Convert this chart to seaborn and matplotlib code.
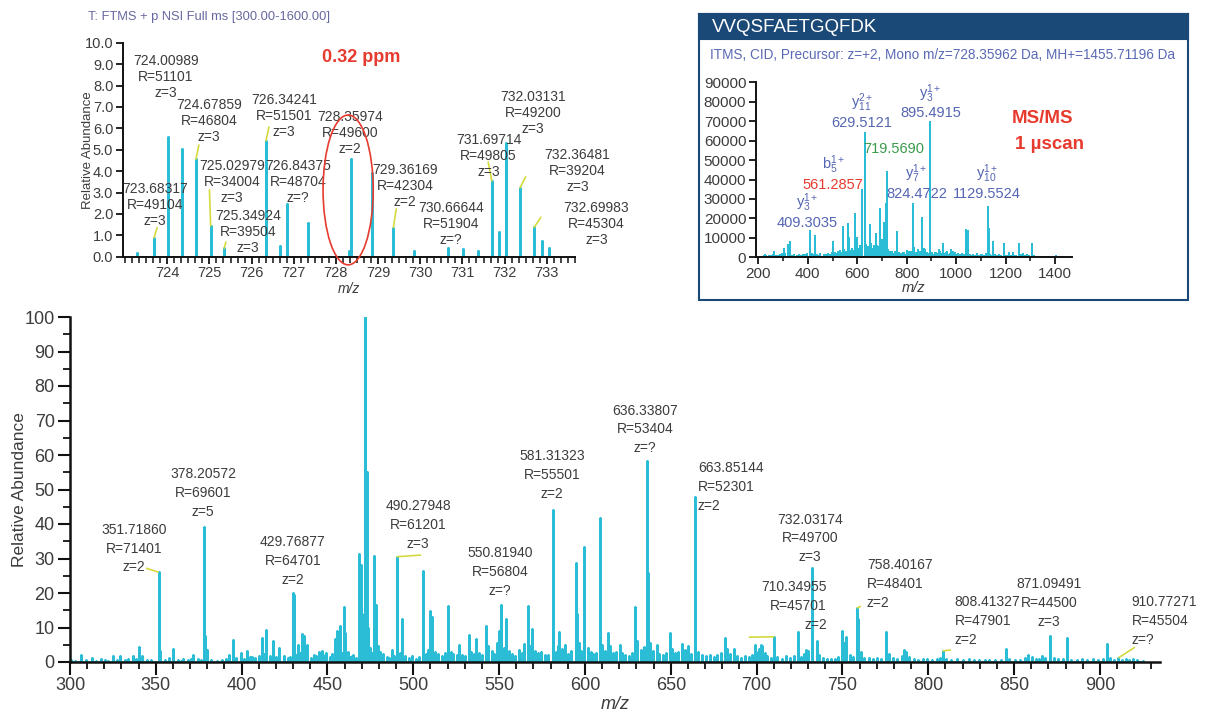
import numpy as np
import pandas as pd
import matplotlib
matplotlib.use("Agg")
import matplotlib.pyplot as plt
import seaborn as sns
from matplotlib.patches import Ellipse, Rectangle, ConnectionPatch
from matplotlib.ticker import MultipleLocator, FixedLocator, FormatStrFormatter

# ---------------- full MS scan (relative abundance, %) ----------------
full_label_mz = [351.71860, 378.20572, 429.76877, 490.27948, 550.81940, 581.31323, 636.33807,
                 663.85144, 710.34955, 732.03174, 758.40167, 808.41327, 871.09491, 910.77271]
full_label_res = [71401, 69601, 64701, 61201, 56804, 55501, 53404,
                  52301, 45701, 49700, 48401, 47901, 44500, 45504]
full_label_z = ["2", "5", "2", "3", "?", "2", "?", "2", "2", "3", "2", "2", "3", "?"]
full_label_int = [26.0, 39.0, 20.0, 30.5, 16.5, 44.0, 58.4, 47.7, 7.3, 27.2, 15.6, 3.2, 7.6, 1.2]

full_other_peaks = [
    (306.4, 2.0), (312.6, 1.2), (318.0, 0.8), (324.9, 1.7), (329.1, 1.7), (336.5, 1.6),
    (340.0, 4.4), (341.8, 1.6), (352.6, 3.3), (357.8, 1.3), (360.2, 3.9), (366.0, 1.0),
    (371.8, 2.0), (378.7, 7.4), (379.6, 3.5), (392.8, 2.0), (394.7, 6.5), (399.4, 2.5),
    (402.9, 3.3), (406.0, 1.5), (411.6, 7.1), (414.0, 9.4), (418.0, 6.2), (421.9, 4.0),
    (430.27, 19.4), (432.9, 5.0), (435.3, 8.1), (436.3, 7.4), (438.2, 5.0), (442.0, 2.0),
    (445.0, 3.0), (447.0, 3.3), (449.0, 2.5), (454.3, 6.8), (455.3, 8.9), (457.2, 10.5),
    (459.8, 16.0), (460.3, 8.5), (463.0, 1.5), (465.0, 2.0), (468.3, 31.3), (469.3, 28.2),
    (469.9, 14.0), (472.0, 100.0), (472.8, 55.0), (473.6, 10.0), (477.1, 30.7), (478.0, 16.5),
    (479.6, 4.5), (487.4, 3.5), (490.78, 26.6), (493.7, 12.4), (505.4, 26.4), (509.7, 14.8),
    (511.0, 13.0), (520.0, 16.1), (526.6, 4.9), (532.4, 7.8), (536.3, 6.6), (542.1, 10.5),
    (551.3, 12.0), (554.0, 12.6), (566.9, 16.1), (569.0, 9.7), (585.0, 8.8), (594.6, 28.6),
    (595.1, 14.0), (599.25, 33.3), (608.75, 41.6), (613.6, 8.4), (620.4, 4.9), (629.2, 16.0),
    (636.84, 25.8), (641.85, 5.0), (649.5, 8.5), (656.5, 5.2), (659.9, 4.6), (664.35, 10.2),
    (681.5, 7.0), (687.0, 3.9), (699.0, 5.0), (702.3, 4.9), (703.0, 4.5), (723.9, 8.6),
    (729.0, 3.6), (732.37, 19.0), (734.9, 6.2), (749.5, 9.0), (750.0, 6.0), (752.0, 7.2),
    (758.9, 12.4), (775.6, 8.6), (785.8, 3.6), (787.0, 3.0), (845.2, 3.9), (858.0, 1.9),
    (866.0, 1.7), (880.6, 6.9), (903.9, 5.2), (915.0, 1.0), (919.2, 0.8),
]

full_noise = [
    (300.8, 0.6), (303.2, 0.4), (309.5, 0.5), (315.1, 0.3), (320.6, 0.5), (322.4, 0.4),
    (327.3, 0.7), (331.8, 0.6), (333.5, 0.9), (338.2, 0.8), (344.6, 0.7), (347.3, 0.5),
    (355.4, 0.6), (362.8, 0.5), (364.4, 0.4), (368.9, 0.7), (370.3, 1.0), (374.5, 0.8),
    (376.1, 0.6), (382.4, 0.5), (385.7, 0.4), (388.3, 0.6), (390.6, 0.9), (396.8, 1.2),
    (401.2, 1.0), (404.6, 1.4), (407.8, 1.1), (409.9, 1.8), (413.0, 2.2), (416.3, 1.6),
    (420.2, 1.4), (424.5, 1.8), (426.8, 1.2), (428.1, 1.5), (431.6, 2.0), (434.1, 2.5),
    (437.2, 1.8), (440.5, 1.3), (443.3, 1.6), (446.0, 2.2), (448.6, 1.9), (451.2, 1.5),
    (452.8, 2.4), (456.4, 3.0), (458.5, 2.6), (461.7, 2.8), (464.3, 1.8), (466.7, 1.2),
    (470.8, 3.0), (474.6, 4.0), (475.8, 2.5), (480.8, 3.0), (482.3, 2.2), (484.6, 1.4),
    (486.0, 1.2), (488.6, 1.8), (492.2, 2.5), (495.0, 1.6), (497.3, 1.2), (499.1, 1.8),
    (501.6, 1.0), (503.3, 1.5), (507.3, 2.2), (508.4, 3.5), (512.6, 2.8), (514.5, 2.2),
    (516.7, 1.6), (518.2, 2.6), (521.8, 3.0), (523.4, 2.4), (525.2, 1.9), (528.3, 2.1),
    (530.1, 1.7), (533.9, 3.0), (535.1, 2.2), (538.4, 2.6), (540.3, 2.0), (543.8, 4.5),
    (545.6, 3.3), (547.2, 2.4), (548.9, 5.5), (549.7, 9.0), (552.6, 4.2), (555.6, 3.1),
    (557.5, 2.3), (559.4, 1.8), (561.3, 3.6), (563.5, 2.5), (564.7, 5.2), (567.8, 4.6),
    (570.9, 3.3), (572.6, 2.6), (574.5, 3.0), (576.6, 2.1), (578.2, 1.9), (582.9, 3.0),
    (584.1, 4.6), (586.7, 3.8), (588.2, 5.0), (590.3, 2.4), (592.0, 3.2), (596.3, 5.5),
    (597.6, 3.1), (601.6, 4.2), (603.3, 3.0), (604.8, 2.3), (606.3, 2.7), (610.2, 5.0),
    (611.6, 3.2), (614.8, 4.6), (616.3, 2.6), (618.1, 3.0), (621.8, 2.6), (623.5, 2.0),
    (625.6, 1.6), (627.4, 2.5), (630.4, 6.0), (632.4, 3.5), (634.2, 4.4), (637.7, 5.6),
    (639.6, 3.3), (643.4, 2.4), (645.2, 1.9), (647.5, 2.7), (650.7, 3.8), (652.6, 2.5),
    (654.3, 3.0), (658.1, 3.6), (661.5, 2.4), (666.0, 3.0), (668.2, 2.1), (670.5, 1.6),
    (672.8, 2.0), (675.1, 1.5), (677.0, 1.9), (679.3, 2.6), (682.6, 3.8), (684.4, 2.2),
    (688.8, 1.6), (691.0, 1.3), (693.4, 1.8), (695.6, 1.4), (697.5, 2.0), (700.6, 3.0),
    (701.5, 3.8), (704.6, 2.6), (706.3, 1.8), (708.2, 1.3), (712.0, 1.4), (714.5, 1.0),
    (716.9, 1.6), (719.3, 1.2), (721.6, 1.8), (725.6, 1.5), (727.6, 2.4), (730.0, 3.2),
    (736.6, 2.0), (738.5, 1.2), (741.2, 0.9), (743.4, 0.8), (745.6, 1.0), (747.6, 1.4),
    (751.0, 5.5), (754.2, 2.0), (756.2, 1.5), (760.6, 2.8), (762.8, 1.3), (765.2, 1.1),
    (767.8, 0.9), (770.4, 1.3), (772.6, 1.0), (777.2, 2.3), (779.6, 1.1), (782.0, 0.9),
    (784.6, 1.8), (788.6, 1.5), (791.5, 0.8), (794.2, 0.6), (797.0, 1.0), (799.5, 0.8),
    (802.3, 0.6), (805.1, 0.9), (806.7, 1.3), (810.2, 1.0), (813.4, 0.7), (816.8, 0.9),
    (820.3, 0.6), (823.6, 0.8), (826.5, 0.5), (829.3, 0.7), (832.8, 0.6), (835.5, 0.5),
    (838.9, 0.7), (842.2, 0.6), (847.1, 0.8), (850.4, 0.5), (853.6, 0.6), (856.2, 1.2),
    (860.3, 1.4), (862.5, 1.0), (864.8, 0.9), (868.1, 1.3), (873.0, 1.2), (875.8, 0.8),
    (878.4, 0.9), (883.0, 0.7), (886.4, 0.6), (889.7, 0.8), (892.5, 0.7), (895.8, 0.9),
    (898.6, 0.6), (901.7, 0.8), (906.1, 1.1), (908.3, 0.7), (912.6, 0.6), (917.0, 0.5),
    (921.8, 0.5), (925.0, 0.4),
]

# ---------------- zoomed isotope region 723-734 (relative abundance, %) ----------------
zoom_label_mz = [723.68317, 724.00989, 724.67859, 725.02979, 725.34924, 726.34241, 726.84375,
                 728.35974, 729.36169, 730.66644, 731.69714, 732.03131, 732.36481, 732.69983]
zoom_label_res = [49104, 51101, 46804, 34004, 39504, 51501, 48704,
                  49600, 42304, 51904, 49805, 49200, 39204, 45304]
zoom_label_z = ["3", "3", "3", "3", "3", "3", "?", "2", "2", "?", "3", "3", "3", "3"]
zoom_label_int = [0.88, 5.6, 4.55, 1.43, 0.39, 5.42, 2.46, 4.55, 1.36, 0.42, 3.54, 5.33, 3.22, 1.37]

zoom_other_peaks = [
    (723.29, 0.16), (724.343, 5.05), (726.676, 0.5), (727.345, 1.56), (728.30, 0.25),
    (728.861, 3.93), (729.86, 0.28), (731.01, 0.37), (731.38, 0.28), (731.87, 1.17),
    (732.88, 0.75), (733.06, 0.4),
]
zoom_tick_values = [724, 725, 726, 727, 728, 729, 730, 731, 732, 733]

# ---------------- MS/MS spectrum of the 728.36 precursor (counts) ----------------
msms_ion_names = ["y", "b", "y", None, "y", "y", "y"]
msms_ion_sub = ["3", "5", "11", None, "3", "7", "10"]
msms_ion_charge = ["1+", "1+", "2+", None, "1+", "1+", "1+"]
msms_label_mz = [409.3035, 561.2857, 629.5121, 719.5690, 895.4915, 824.4722, 1129.5524]
msms_label_int = [13700, 17100, 63800, 43700, 69400, 27300, 25900]
msms_label_kind = ["blue", "red", "blue", "green", "blue", "blue", "blue"]

msms_other_peaks = [
    (227, 1000), (263.5, 2600), (304, 4300), (320, 6300), (328, 7800), (429, 11100),
    (503, 8000), (541, 15400), (567, 10000), (592, 22300), (600, 10000), (618, 34600),
    (633, 8000), (650, 16600), (655, 7000), (676, 12000), (680, 6000), (692, 24700),
    (698, 9000), (709.6, 17800), (716.4, 27300), (722, 4000), (741, 2800), (761, 12800),
    (790, 2400), (800, 3300), (830, 5000), (860.6, 20000), (870, 4400), (915, 2000),
    (930, 3700), (948, 6700), (960, 2300), (980, 4000), (995, 2000), (1040, 14000),
    (1046, 13700), (1082, 1600), (1131.5, 14800), (1148, 8000), (1194, 6900), (1213, 2000),
    (1228, 2000), (1253, 6900), (1270, 1700), (1307, 6900), (1404, 700),
]

msms_noise = [
    (222, 900), (231, 700), (245, 800), (252, 600), (258, 1100), (272, 900), (281, 700),
    (289, 1200), (296, 1500), (309, 1800), (322, 1400), (338, 900), (346, 1100), (356, 800),
    (363, 1200), (371, 900), (380, 1400), (388, 1000), (395, 1700), (416, 1800), (421, 1300),
    (437, 1200), (444, 900), (451, 1600), (466, 1400), (473, 1100), (481, 1800), (489, 1300),
    (496, 2000), (511, 2200), (516, 1600), (524, 2500), (531, 3200), (537, 2400), (548, 3600),
    (553, 2800), (568, 3900), (574, 3000), (580, 4200), (586, 3400), (597, 5000), (604, 4300),
    (609, 3600), (613, 5600), (637, 6100), (641, 4600), (645, 5400), (656, 4800), (662, 4100),
    (668, 5700), (671, 4300), (682, 5200), (686, 4400), (697, 6600), (702, 5600), (706, 7200),
    (713, 6400), (724, 4000), (731, 2600), (738, 2100), (746, 1900), (753, 2700), (768, 2200),
    (776, 1600), (783, 2400), (789, 1800), (797, 1300), (803, 2200), (811, 2900), (818, 2600),
    (831, 3000), (838, 2300), (846, 3600), (853, 2500), (868, 2000), (873, 3900), (880, 2100),
    (886, 1600), (903, 2000), (910, 1400), (918, 2300), (925, 1500), (933, 2600), (940, 1700),
    (956, 1800), (962, 2900), (969, 1400), (975, 1900), (987, 2600), (993, 1600), (1001, 1200),
    (1008, 1800), (1015, 1300), (1022, 1500), (1030, 1100), (1054, 1300), (1061, 900),
    (1068, 1200), (1075, 800), (1083, 1000), (1091, 700), (1099, 1100), (1106, 1400),
    (1113, 900), (1120, 1600), (1137, 1200), (1143, 900), (1158, 1100), (1166, 800),
    (1174, 1000), (1182, 700), (1203, 900), (1210, 600), (1219, 800), (1226, 600), (1234, 900),
    (1241, 700), (1262, 1100), (1270, 700), (1279, 900), (1286, 1300), (1293, 600), (1316, 500),
    (1328, 400), (1352, 300), (1376, 300), (1420, 200),
]

# ---------------- styling ----------------
sns.set_theme(style="ticks")
plt.rcParams["font.family"] = ["Liberation Sans", "DejaVu Sans"]
plt.rcParams["mathtext.fontset"] = "custom"
plt.rcParams["mathtext.rm"] = "Liberation Sans"
plt.rcParams["mathtext.it"] = "Liberation Sans:italic"
plt.rcParams["mathtext.default"] = "regular"

CYAN = "#2bbdd6"
TEXT = "#3c3c3c"
LEADER = "#d4da3e"
RED = "#e63b2e"
ION_BLUE = "#5566b2"
GREEN = "#3a9a4c"
NAVY = "#1b4977"

W, H = 1205, 715


def box(left, top, right, bottom):
    return [left / W, 1 - bottom / H, (right - left) / W, (bottom - top) / H]


def stick_frame(peaks):
    peaks = sorted(peaks)
    mz = np.repeat([p[0] for p in peaks], 3)
    ab = np.column_stack([np.zeros(len(peaks)), [p[1] for p in peaks], np.zeros(len(peaks))]).ravel()
    return pd.DataFrame({"mz": mz, "abundance": ab})


def draw_spectrum(ax, peaks, lw):
    sns.lineplot(data=stick_frame(peaks), x="mz", y="abundance", ax=ax, estimator=None,
                 sort=False, color=CYAN, lw=lw, legend=False)


def style_axes(ax, spine_lw):
    sns.despine(ax=ax)
    for s in ("left", "bottom"):
        ax.spines[s].set_linewidth(spine_lw)
        ax.spines[s].set_color("#111111")
    ax.set_facecolor("none")


fig = plt.figure(figsize=(W / 100, H / 100), dpi=100)
fig.patch.set_facecolor("white")

# ======== main full-scan spectrum ========
ax = fig.add_axes(box(70, 317, 1160, 662))
draw_spectrum(ax, list(zip(full_label_mz, full_label_int)) + full_other_peaks + full_noise, 1.8)
ax.set_xlim(300, 935)
ax.set_ylim(0, 100)
style_axes(ax, 1.8)
ax.xaxis.set_major_locator(MultipleLocator(50))
ax.xaxis.set_minor_locator(MultipleLocator(10))
ax.yaxis.set_major_locator(MultipleLocator(10))
ax.yaxis.set_minor_locator(MultipleLocator(5))
ax.tick_params(which="major", length=9, width=1.5, direction="out", labelsize=13,
               labelcolor=TEXT, color="#111111", pad=2)
ax.tick_params(which="minor", length=5, width=1.3, direction="out", color="#111111")
ax.set_xlabel("m/z", fontstyle="italic", fontsize=13, color=TEXT, labelpad=1)
ax.set_ylabel("Relative Abundance", fontsize=12.5, color=TEXT, labelpad=-2)

# label blocks: (x in m/z, y in %, horizontal alignment)
full_text_pos = [
    (337.3, 32.8, "center"), (377.5, 49.0, "center"), (429.9, 29.3, "center"),
    (502.7, 39.7, "center"), (550.5, 26.1, "center"), (580.8, 54.2, "center"),
    (634.9, 67.5, "center"), (665.8, 50.7, "left"), (741.0, 16.2, "right"),
    (731.1, 35.9, "center"), (764.3, 22.6, "left"), (815.5, 11.9, "left"),
    (870.3, 17.1, "center"), (918.6, 11.9, "left"),
]
# leader lines from peak apex to label
full_leader_end = {0: (344.3, 27.2), 3: (504.5, 31.0), 8: (695.5, 7.2),
                   10: (760.8, 16.2), 11: (813.2, 3.5), 13: (920.4, 4.3)}
for i, (mz, res, z, it) in enumerate(zip(full_label_mz, full_label_res, full_label_z, full_label_int)):
    tx, ty, ha = full_text_pos[i]
    ax.text(tx, ty, f"{mz:.5f}\nR={res}\nz={z}", ha=ha, va="center", fontsize=10,
            color=TEXT, linespacing=1.42, multialignment=ha)
    end = full_leader_end.get(i)
    if end is not None:
        ax.plot([mz, end[0]], [it, end[1]], color=LEADER, lw=1.2, solid_capstyle="butt")

# ======== zoomed isotope region ========
ax1 = fig.add_axes(box(123, 42.7, 575, 256.7))
draw_spectrum(ax1, list(zip(zoom_label_mz, zoom_label_int)) + zoom_other_peaks, 1.9)
ax1.set_xlim(722.95, 733.67)
ax1.set_ylim(0, 10)
style_axes(ax1, 1.4)
ax1.xaxis.set_major_locator(FixedLocator(zoom_tick_values))
ax1.xaxis.set_minor_locator(MultipleLocator(1 / 6))
ax1.yaxis.set_major_locator(MultipleLocator(1))
ax1.yaxis.set_major_formatter(FormatStrFormatter("%.1f"))
ax1.tick_params(which="major", length=5, width=1.3, direction="out", labelsize=10.5,
                labelcolor=TEXT, color="#111111", pad=2)
ax1.tick_params(which="minor", length=4, width=1.1, direction="out", color="#111111")
ax1.set_xlabel("m/z", fontstyle="italic", fontsize=10, color=TEXT, labelpad=1)
ax1.set_ylabel("Relative Abundance", fontsize=9.5, color=TEXT, labelpad=-7)

zoom_text_pos = [
    (723.71, 2.42), (723.97, 8.40), (724.99, 6.34), (725.53, 3.49), (725.91, 1.15),
    (726.77, 6.57), (727.10, 3.49), (728.33, 5.78), (729.64, 3.30), (730.73, 1.52),
    (731.62, 4.71), (732.67, 6.71), (733.73, 4.00), (734.18, 1.52),
]
zoom_leader_end = {0: (723.76, 1.35), 2: (724.75, 5.22), 3: (725.00, 3.12), 4: (725.39, 0.69),
                   5: (726.41, 6.06), 8: (729.43, 2.23), 10: (731.61, 4.43), 12: (732.50, 3.73),
                   13: (732.86, 1.84)}
for i, (mz, res, z, it) in enumerate(zip(zoom_label_mz, zoom_label_res, zoom_label_z, zoom_label_int)):
    tx, ty = zoom_text_pos[i]
    ax1.text(tx, ty, f"{mz:.5f}\nR={res}\nz={z}", ha="center", va="center", fontsize=10,
             color=TEXT, linespacing=1.16, clip_on=False)
    end = zoom_leader_end.get(i)
    if end is not None:
        ax1.plot([mz, end[0]], [it, end[1]], color=LEADER, lw=1.2, clip_on=False)

ax1.text(728.60, 9.29, "0.32 ppm", color=RED, fontsize=13, fontweight="bold",
         ha="center", va="center")
fig.text(88 / W, 1 - 17 / H, "T: FTMS + p NSI Full ms [300.00-1600.00]", color="#6868a0",
         fontsize=9.3, ha="left", va="center")

precursor = zoom_label_mz[7]
ax1.add_patch(Ellipse((precursor - 0.07, 3.12), 1.19, 7.0, fill=False, edgecolor=RED,
                      lw=1.2, clip_on=False, zorder=5))
con = ConnectionPatch(xyA=(precursor - 0.02, -0.37), coordsA="data", axesA=ax1,
                      xyB=(723.3, 10.7), coordsB="data", axesB=ax,
                      color=RED, lw=1.1, zorder=6)
fig.add_artist(con)

# ======== MS/MS panel ========
fig.add_artist(Rectangle((699 / W, 1 - 300 / H), (1188 - 699) / W, (300 - 14) / H,
                         transform=fig.transFigure, fill=False, edgecolor=NAVY, lw=1.5, zorder=0))
fig.add_artist(Rectangle((699 / W, 1 - 39 / H), (1188 - 699) / W, 25 / H,
                         transform=fig.transFigure, facecolor=NAVY, edgecolor=NAVY, lw=1.5, zorder=0))
fig.text(712 / W, 1 - 27 / H, "VVQSFAETGQFDK", color="white", fontsize=13.5,
         ha="left", va="center")
fig.text(710 / W, 1 - 55 / H,
         "ITMS, CID, Precursor: z=+2, Mono m/z=728.35962 Da, MH+=1455.71196 Da",
         color="#5a6ab4", fontsize=9.8, ha="left", va="center")

ax2 = fig.add_axes(box(756, 82.3, 1072, 257.3))
draw_spectrum(ax2, list(zip(msms_label_mz, msms_label_int)) + msms_other_peaks + msms_noise, 1.3)
ax2.set_xlim(190.7, 1468)
ax2.set_ylim(0, 90000)
style_axes(ax2, 1.4)
ax2.xaxis.set_major_locator(MultipleLocator(200))
ax2.xaxis.set_minor_locator(MultipleLocator(100))
ax2.yaxis.set_major_locator(MultipleLocator(10000))
ax2.tick_params(which="major", length=5, width=1.3, direction="out", labelsize=11,
                labelcolor=TEXT, color="#111111", pad=2)
ax2.tick_params(which="minor", length=3, width=1.1, direction="out", color="#111111")
ax2.set_xlabel("m/z", fontstyle="italic", fontsize=10.5, color=TEXT, labelpad=0)
ax2.set_ylabel("")

# ion label positions (x in m/z, y of ion name, y of value)
msms_text_pos = [(397, 27900, 17600), (503, 47400, 37200), (619, 79400, 69100),
                 (749, None, 55700), (896, 84000, 74200), (840, 42800, 32600),
                 (1125, 42800, 32600)]
kind_color = {"blue": ION_BLUE, "red": RED, "green": GREEN}
for i, mz in enumerate(msms_label_mz):
    tx, ty_name, ty_val = msms_text_pos[i]
    if msms_ion_names[i] is not None:
        ax2.text(tx, ty_name, f"{msms_ion_names[i]}$_{{{msms_ion_sub[i]}}}^{{{msms_ion_charge[i]}}}$",
                 color=ION_BLUE, fontsize=10.5, ha="center", va="center")
    ax2.text(tx, ty_val, f"{mz:.4f}", color=kind_color[msms_label_kind[i]], fontsize=10.5,
             ha="center", va="center")

ax2.text(1347, 71200, "MS/MS", color=RED, fontsize=13.5, fontweight="bold", ha="center", va="center")
ax2.text(1379, 57800, "1 µscan", color=RED, fontsize=13.5, fontweight="bold", ha="center", va="center")

fig.savefig("out.png", dpi=100, facecolor="white")
